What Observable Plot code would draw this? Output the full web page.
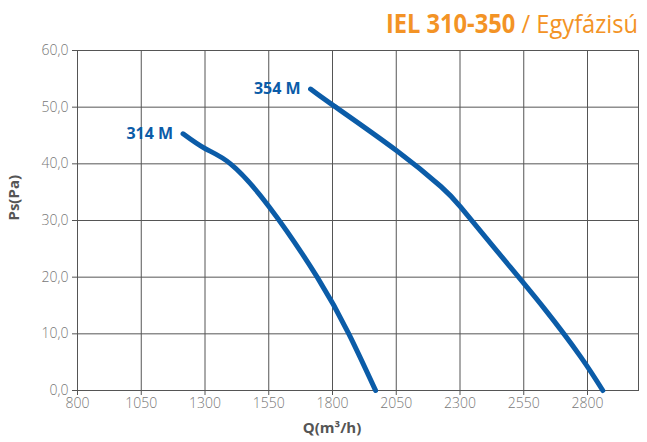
<!DOCTYPE html>
<html>
<head>
<meta charset="utf-8">
<script src="https://cdn.jsdelivr.net/npm/d3@7"></script>
<script src="https://cdn.jsdelivr.net/npm/@observablehq/plot@0.6"></script>
<style>
  html, body { margin: 0; padding: 0; background: #fff; }
  #wrap { position: relative; width: 647px; height: 442px; font-family: "Open Sans", "Noto Sans", sans-serif; }
  #title { position: absolute; right: 9px; top: 10px; font-size: 26px; line-height: 26px; color: #f39325; white-space: nowrap; transform: scaleX(0.91); transform-origin: right top; }
  #title b { font-weight: 700; }
</style>
</head>
<body>
<div id="wrap"><div id="title"><b>IEL 310-350</b> / Egyfázisú</div></div>
<script>
// Data
const seriesNames = ["314 M", "354 M"];
const q314 = [1214, 1300, 1400, 1552, 1740, 1864, 1969];
const p314 = [45.3, 42.7, 40.0, 32.4, 20.0, 10.0, 0.0];
const q354 = [1714, 1800, 2052, 2225, 2302, 2460, 2630, 2774, 2860];
const p354 = [53.2, 50.4, 42.3, 36.0, 32.4, 23.8, 14.5, 5.9, 0.0];
const xTicks = [800, 1050, 1300, 1550, 1800, 2050, 2300, 2550, 2800];
const yTicks = [0, 10, 20, 30, 40, 50, 60];
const xDomain = [800, 3000];
const yDomain = [0, 60];

const rows = [
  ...q314.map((q, i) => ({series: seriesNames[0], q, p: p314[i]})),
  ...q354.map((q, i) => ({series: seriesNames[1], q, p: p354[i]}))
];
const labels = seriesNames.map(s => rows.find(r => r.series === s));

const blue = "#0b5ca8";
const grid = "#555";
const fmtY = d => d.toFixed(1).replace(".", ",");

const chart = Plot.plot({
  width: 647,
  height: 442,
  marginLeft: 77,
  marginRight: 9,
  marginTop: 50,
  marginBottom: 52,
  style: {fontFamily: "'Open Sans', 'Noto Sans', sans-serif", fontSize: "14px", background: "transparent", overflow: "visible"},
  x: {domain: xDomain, ticks: xTicks},
  y: {domain: yDomain, ticks: yTicks},
  marks: [
    Plot.ruleX(xTicks, {stroke: grid, strokeWidth: 1}),
    Plot.ruleY(yTicks, {stroke: grid, strokeWidth: 1}),
    Plot.frame({stroke: grid, strokeWidth: 1}),
    Plot.axisX({ticks: xTicks, tickSize: 5, tickPadding: 3, stroke: grid, color: "#777", fontSize: 14, fontWeight: 300, label: null, tickFormat: d => String(d)}),
    Plot.axisY({ticks: yTicks, tickSize: 5, tickPadding: 4, stroke: grid, color: "#777", fontSize: 14, fontWeight: 300, label: null, tickFormat: fmtY}),
    Plot.line(rows, {x: "q", y: "p", z: "series", stroke: blue, strokeWidth: 5, curve: "natural", strokeLinecap: "round"}),
    Plot.text(labels, {x: "q", y: "p", text: "series", textAnchor: "end", dx: -10, fill: blue, fontWeight: 700, fontSize: 16}),
    Plot.text(["Q(m³/h)"], {frameAnchor: "bottom", dx: -26, dy: 42, fill: "#555", fontWeight: 700, fontSize: 15}),
    Plot.text(["Ps(Pa)"], {frameAnchor: "left", dx: -63, rotate: -90, fill: "#555", fontWeight: 700, fontSize: 15})
  ]
});
document.getElementById("wrap").prepend(chart);
</script>
</body>
</html>
